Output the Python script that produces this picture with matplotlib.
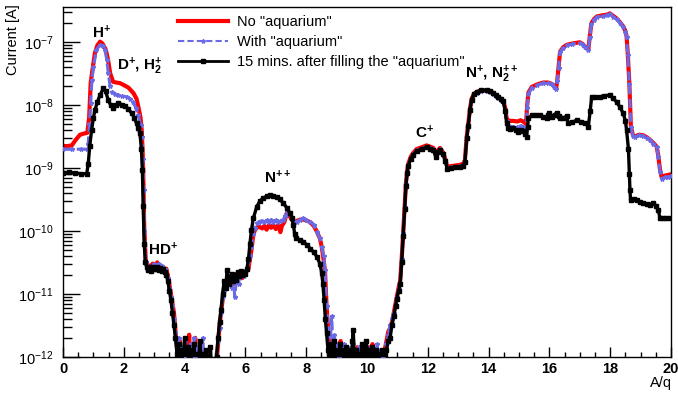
import matplotlib

matplotlib.use("Agg")
import matplotlib.pyplot as plt
import numpy as np
from matplotlib.lines import Line2D
from matplotlib.ticker import LogLocator, MultipleLocator, NullFormatter

plt.rcParams["font.family"] = ["Liberation Sans", "DejaVu Sans"]
plt.rcParams["mathtext.fontset"] = "custom"
plt.rcParams["mathtext.rm"] = "Liberation Sans:bold"
plt.rcParams["mathtext.it"] = "Liberation Sans:italic"
plt.rcParams["mathtext.bf"] = "Liberation Sans:bold"

# values: A/q and log10(current / A)
red_x = [0.0, 0.15, 0.29, 0.42, 0.56, 0.7, 0.8, 0.86, 0.91, 0.98, 1.05, 1.13, 1.22, 1.3, 1.41, 1.49,
         1.55, 1.65, 1.75, 1.875, 2.0, 2.15, 2.32, 2.42, 2.48, 2.55, 2.59, 2.62, 2.64, 2.67, 2.72,
         2.76, 2.8, 2.85, 2.9, 2.95, 3.0, 3.05, 3.1, 3.15, 3.2, 3.25, 3.3, 3.35, 3.4, 3.45, 3.5,
         3.55, 3.6, 3.65, 3.7, 3.75, 3.8, 3.85, 3.9, 3.95, 4.0, 4.05, 4.1, 4.15, 4.2, 4.25, 4.3,
         4.35, 4.4, 4.45, 4.5, 4.55, 4.6, 4.65, 4.7, 4.75, 4.8, 4.85, 4.9, 4.95, 5.0, 5.05, 5.1,
         5.15, 5.2, 5.25, 5.3, 5.35, 5.4, 5.45, 5.5, 5.55, 5.6, 5.65, 5.7, 5.75, 5.8, 5.85, 5.9,
         5.95, 6.0, 6.05, 6.1, 6.15, 6.2, 6.25, 6.3, 6.37, 6.45, 6.55, 6.62, 6.7, 6.78, 6.85,
         6.92, 7.0, 7.08, 7.15, 7.2, 7.28, 7.36, 7.44, 7.52, 7.6, 7.69, 7.8, 7.9, 8.0, 8.13,
         8.25, 8.35, 8.45, 8.51, 8.57, 8.62, 8.67, 8.73, 8.78, 8.83, 8.88, 8.93, 8.98, 9.03,
         9.08, 9.13, 9.18, 9.23, 9.28, 9.33, 9.38, 9.43, 9.48, 9.53, 9.58, 9.63, 9.68, 9.73,
         9.78, 9.83, 9.88, 9.93, 9.98, 10.03, 10.08, 10.13, 10.18, 10.23, 10.28, 10.33, 10.38,
         10.43, 10.48, 10.53, 10.58, 10.64, 10.7, 10.76, 10.82, 10.88, 10.94, 10.98, 11.04,
         11.09, 11.14, 11.19, 11.24, 11.28, 11.32, 11.36, 11.44, 11.52, 11.63, 11.8, 11.96,
         12.08, 12.18, 12.27, 12.33, 12.4, 12.5, 12.57, 12.64, 12.75, 12.89, 13.05, 13.17,
         13.22, 13.28, 13.33, 13.39, 13.44, 13.52, 13.61, 13.75, 13.94, 14.05, 14.16, 14.25,
         14.32, 14.42, 14.48, 14.55, 14.59, 14.65, 14.8, 14.95, 15.05, 15.14, 15.23, 15.27,
         15.31, 15.42, 15.6, 15.8, 15.95, 16.07, 16.16, 16.22, 16.26, 16.3, 16.35, 16.45,
         16.57, 16.75, 17.0, 17.1, 17.17, 17.28, 17.33, 17.38, 17.47, 17.56, 17.75, 17.9,
         17.99, 18.1, 18.21, 18.32, 18.43, 18.5, 18.54, 18.58, 18.63, 18.68, 18.75, 18.82,
         18.95, 19.09, 19.2, 19.31, 19.42, 19.53, 19.58, 19.64, 19.69, 19.8, 19.9, 20.0]
red_logI = [-8.65, -8.65, -8.64, -8.55, -8.47, -8.45, -8.44, -8.2, -7.65, -7.4, -7.17, -7.05, -6.99,
            -7.02, -7.12, -7.3, -7.49, -7.63, -7.64, -7.65, -7.68, -7.72, -7.81, -7.9, -8.03, -8.2,
            -8.4, -8.75, -9.08, -9.9, -10.45, -10.56, -10.6, -10.55, -10.58, -10.52, -10.6, -10.55,
            -10.5, -10.58, -10.55, -10.62, -10.57, -10.65, -10.6, -10.72, -10.85, -11.0, -11.15,
            -11.3, -11.6, -11.85, -12.1, -11.75, -12.2, -11.9, -12.3, -11.8, -12.1, -11.65, -12.3,
            -11.9, -12.0, -11.7, -12.2, -11.85, -12.1, -11.95, -12.3, -11.9, -12.2, -11.95, -12.3,
            -12.1, -12.4, -12.2, -12.3, -12.1, -11.8, -11.5, -11.3, -11.1, -10.9, -10.8, -10.85,
            -10.72, -10.8, -10.7, -10.85, -10.75, -10.68, -10.8, -10.72, -10.65, -10.75, -10.68,
            -10.7, -10.62, -10.6, -10.45, -10.3, -10.1, -10.0, -9.95, -9.93, -9.96, -9.92, -9.98,
            -9.9, -9.95, -9.91, -9.97, -9.9, -10.02, -9.92, -9.86, -9.72, -9.75, -9.82, -9.86,
            -9.84, -9.82, -9.82, -9.83, -9.86, -9.92, -10.01, -10.12, -10.25, -10.45, -10.65,
            -11.2, -11.6, -11.9, -12.3, -11.7, -12.4, -11.8, -11.95, -12.2, -11.75, -12.1, -11.85,
            -12.3, -11.9, -12.15, -11.95, -12.3, -11.9, -12.1, -12.2, -11.85, -12.1, -11.9, -12.3,
            -11.8, -12.1, -11.9, -12.2, -11.85, -12.05, -11.8, -12.1, -11.9, -12.3, -11.95, -12.1,
            -11.9, -12.2, -11.9, -11.75, -11.6, -11.55, -11.45, -11.3, -11.15, -11.05, -10.9,
            -10.8, -10.45, -10.04, -9.6, -9.24, -9.05, -8.93, -8.82, -8.76, -8.7, -8.67, -8.64,
            -8.66, -8.68, -8.8, -8.72, -8.68, -8.75, -8.85, -8.98, -8.97, -8.96, -8.95, -8.93,
            -8.88, -8.5, -8.3, -8.05, -7.9, -7.82, -7.79, -7.77, -7.77, -7.78, -7.81, -7.85,
            -7.88, -7.9, -7.93, -8.05, -8.2, -8.25, -8.25, -8.26, -8.24, -8.26, -8.3, -8.0, -7.8,
            -7.71, -7.67, -7.64, -7.64, -7.66, -7.7, -7.74, -7.6, -7.4, -7.15, -7.08, -7.04,
            -7.02, -7.0, -7.03, -7.07, -7.12, -6.9, -6.7, -6.63, -6.59, -6.57, -6.56, -6.54,
            -6.58, -6.62, -6.68, -6.75, -6.82, -6.91, -7.2, -7.65, -8.34, -8.48, -8.5, -8.47,
            -8.48, -8.51, -8.55, -8.6, -8.66, -8.8, -9.03, -9.14, -9.12, -9.11, -9.1]

blue_x = [0.0, 0.3, 0.6, 0.78, 0.83, 0.87, 0.91, 0.95, 1.0, 1.1, 1.22, 1.3, 1.38, 1.44, 1.49, 1.55,
          1.6, 1.7, 1.82, 1.95, 2.1, 2.2, 2.31, 2.4, 2.48, 2.55, 2.59, 2.62, 2.65, 2.68, 2.72,
          2.76, 2.8, 2.85, 2.9, 2.95, 3.0, 3.05, 3.1, 3.15, 3.2, 3.25, 3.3, 3.35, 3.4, 3.45, 3.5,
          3.55, 3.6, 3.65, 3.7, 3.75, 3.8, 3.85, 3.9, 3.95, 4.0, 4.05, 4.1, 4.15, 4.2, 4.25, 4.3,
          4.35, 4.4, 4.45, 4.5, 4.55, 4.6, 4.65, 4.7, 4.75, 4.8, 4.85, 4.9, 4.95, 5.0, 5.05, 5.1,
          5.15, 5.2, 5.25, 5.3, 5.35, 5.4, 5.45, 5.5, 5.55, 5.6, 5.65, 5.7, 5.75, 5.8, 5.85, 5.9,
          5.95, 6.0, 6.05, 6.1, 6.15, 6.2, 6.25, 6.3, 6.37, 6.45, 6.55, 6.62, 6.7, 6.78, 6.85,
          6.92, 7.0, 7.08, 7.15, 7.25, 7.3, 7.36, 7.44, 7.52, 7.6, 7.69, 7.8, 7.9, 8.0, 8.13,
          8.25, 8.35, 8.45, 8.51, 8.57, 8.62, 8.67, 8.73, 8.78, 8.84, 8.88, 8.93, 8.98, 9.03,
          9.08, 9.13, 9.18, 9.23, 9.28, 9.33, 9.38, 9.43, 9.48, 9.53, 9.58, 9.63, 9.68, 9.73,
          9.78, 9.83, 9.88, 9.93, 9.98, 10.03, 10.08, 10.13, 10.18, 10.23, 10.28, 10.33, 10.38,
          10.43, 10.48, 10.53, 10.58, 10.64, 10.7, 10.76, 10.82, 10.88, 10.94, 10.98, 11.04,
          11.09, 11.14, 11.19, 11.24, 11.28, 11.32, 11.36, 11.44, 11.52, 11.63, 11.8, 11.96,
          12.08, 12.18, 12.27, 12.33, 12.4, 12.5, 12.57, 12.64, 12.75, 12.89, 13.05, 13.17,
          13.22, 13.28, 13.33, 13.39, 13.44, 13.52, 13.61, 13.75, 13.94, 14.05, 14.16, 14.25,
          14.32, 14.42, 14.48, 14.55, 14.59, 14.65, 14.8, 14.95, 15.05, 15.14, 15.23, 15.27,
          15.31, 15.42, 15.6, 15.8, 15.95, 16.07, 16.16, 16.22, 16.26, 16.3, 16.35, 16.45,
          16.57, 16.75, 17.0, 17.1, 17.17, 17.28, 17.33, 17.38, 17.47, 17.56, 17.75, 17.9,
          17.99, 18.1, 18.21, 18.32, 18.43, 18.5, 18.54, 18.58, 18.63, 18.68, 18.75, 18.82,
          18.95, 19.09, 19.2, 19.31, 19.42, 19.53, 19.58, 19.64, 19.69, 19.8, 19.9, 20.0]
blue_logI = [-8.7, -8.7, -8.7, -8.7, -8.61, -8.3, -7.97, -7.6, -7.39, -7.12, -7.04, -7.06, -7.12,
             -7.28, -7.49, -7.7, -7.79, -7.83, -7.84, -7.85, -7.87, -7.9, -7.95, -8.05, -8.16,
             -8.32, -8.5, -8.85, -9.35, -10.0, -10.5, -10.6, -10.55, -10.62, -10.57, -10.6,
             -10.53, -10.6, -10.56, -10.52, -10.6, -10.56, -10.64, -10.6, -10.68, -10.75, -10.9,
             -11.05, -11.2, -11.4, -11.6, -11.9, -11.7, -12.1, -11.85, -12.2, -11.75, -12.0, -11.9,
             -12.2, -11.8, -12.1, -11.7, -12.0, -11.85, -12.3, -11.8, -12.1, -11.7, -12.2, -11.9,
             -12.3, -11.95, -12.2, -12.05, -12.3, -12.15, -12.0, -11.75, -11.55, -11.3, -11.05,
             -10.95, -10.85, -10.78, -10.82, -10.7, -10.9, -10.75, -11.05, -10.8, -10.72, -10.85,
             -10.7, -10.66, -10.72, -10.65, -10.6, -10.5, -10.4, -10.25, -10.05, -9.95, -9.88,
             -9.85, -9.84, -9.86, -9.83, -9.85, -9.82, -9.86, -9.83, -9.85, -9.84, -9.82, -9.76,
             -9.69, -9.72, -9.8, -9.84, -9.85, -9.82, -9.8, -9.82, -9.85, -9.9, -10.01, -10.12,
             -10.25, -10.4, -10.62, -11.2, -11.55, -11.85, -11.36, -11.9, -11.65, -12.2, -11.8,
             -12.0, -11.9, -12.3, -11.8, -12.1, -11.85, -12.2, -11.9, -12.05, -11.8, -12.2, -11.95,
             -12.1, -11.85, -12.2, -11.9, -12.05, -11.95, -12.3, -11.9, -12.1, -11.85, -12.2,
             -11.95, -12.1, -11.8, -12.2, -11.9, -12.3, -12.0, -11.95, -11.8, -11.65, -11.5, -11.4,
             -11.3, -11.2, -11.05, -10.92, -10.83, -10.45, -10.04, -9.62, -9.26, -9.07, -8.95,
             -8.84, -8.78, -8.72, -8.69, -8.66, -8.68, -8.7, -8.82, -8.74, -8.7, -8.77, -8.87,
             -9.0, -8.99, -8.98, -8.97, -8.95, -8.9, -8.52, -8.32, -8.07, -7.92, -7.83, -7.8,
             -7.78, -7.78, -7.79, -7.82, -7.86, -7.89, -7.91, -7.94, -8.07, -8.25, -8.33, -8.34,
             -8.35, -8.33, -8.34, -8.36, -8.05, -7.82, -7.72, -7.68, -7.65, -7.65, -7.67, -7.71,
             -7.75, -7.61, -7.41, -7.16, -7.09, -7.05, -7.03, -7.01, -7.04, -7.08, -7.13, -6.91,
             -6.71, -6.64, -6.6, -6.58, -6.57, -6.55, -6.59, -6.63, -6.69, -6.76, -6.83, -6.92,
             -7.21, -7.66, -8.35, -8.49, -8.51, -8.48, -8.49, -8.52, -8.56, -8.61, -8.67, -8.82,
             -9.06, -9.17, -9.15, -9.14, -9.13]

black_x = [0.0, 0.2, 0.4, 0.6, 0.78, 0.83, 0.88, 0.94, 1.0, 1.05, 1.13, 1.22, 1.33, 1.4, 1.49,
           1.57, 1.65, 1.75, 1.82, 1.93, 2.04, 2.15, 2.26, 2.35, 2.42, 2.48, 2.53, 2.58, 2.61,
           2.64, 2.67, 2.71, 2.76, 2.8, 2.85, 2.9, 2.95, 3.0, 3.05, 3.1, 3.15, 3.2, 3.25, 3.3,
           3.35, 3.4, 3.45, 3.5, 3.55, 3.6, 3.65, 3.7, 3.75, 3.8, 3.85, 3.9, 3.95, 4.0, 4.05,
           4.1, 4.15, 4.2, 4.25, 4.3, 4.35, 4.4, 4.45, 4.5, 4.55, 4.6, 4.65, 4.7, 4.75, 4.8,
           4.85, 4.9, 4.95, 5.0, 5.05, 5.1, 5.15, 5.2, 5.25, 5.3, 5.35, 5.4, 5.45, 5.5, 5.55,
           5.6, 5.65, 5.7, 5.75, 5.8, 5.85, 5.9, 5.95, 6.0, 6.05, 6.1, 6.15, 6.2, 6.26, 6.37,
           6.48, 6.59, 6.7, 6.81, 6.92, 7.03, 7.14, 7.25, 7.36, 7.47, 7.53, 7.58, 7.62, 7.66,
           7.78, 7.9, 8.02, 8.13, 8.25, 8.35, 8.45, 8.51, 8.55, 8.59, 8.63, 8.67, 8.72, 8.77,
           8.82, 8.87, 8.92, 8.97, 9.02, 9.07, 9.12, 9.17, 9.22, 9.27, 9.32, 9.37, 9.42, 9.47,
           9.52, 9.55, 9.58, 9.63, 9.68, 9.73, 9.78, 9.83, 9.88, 9.93, 9.98, 10.03, 10.08,
           10.13, 10.18, 10.23, 10.28, 10.33, 10.38, 10.43, 10.48, 10.53, 10.58, 10.64, 10.7,
           10.76, 10.82, 10.88, 10.94, 10.98, 11.04, 11.09, 11.14, 11.19, 11.24, 11.28, 11.32,
           11.36, 11.44, 11.52, 11.63, 11.8, 11.96, 12.08, 12.18, 12.27, 12.33, 12.4, 12.5,
           12.57, 12.64, 12.75, 12.89, 13.05, 13.17, 13.22, 13.28, 13.33, 13.39, 13.44, 13.52,
           13.61, 13.75, 13.94, 14.05, 14.16, 14.25, 14.32, 14.42, 14.48, 14.55, 14.59, 14.64,
           14.72, 14.81, 14.9, 14.98, 15.06, 15.14, 15.2, 15.25, 15.28, 15.31, 15.42, 15.55,
           15.69, 15.8, 15.91, 15.96, 16.0, 16.04, 16.1, 16.18, 16.24, 16.3, 16.35, 16.45,
           16.57, 16.62, 16.75, 16.9, 17.05, 17.17, 17.28, 17.34, 17.39, 17.5, 17.66, 17.8,
           17.99, 18.1, 18.21, 18.32, 18.43, 18.5, 18.54, 18.6, 18.63, 18.65, 18.67, 18.77,
           18.87, 18.98, 19.09, 19.2, 19.31, 19.42, 19.5, 19.58, 19.64, 19.75, 19.85, 19.97]
black_logI = [-9.08, -9.07, -9.08, -9.09, -9.09, -8.93, -8.65, -8.4, -8.2, -8.08, -7.95, -7.84,
              -7.73, -7.78, -7.92, -8.0, -8.04, -8.0, -7.97, -7.99, -8.01, -8.06, -8.13, -8.2,
              -8.29, -8.37, -8.45, -8.7, -9.03, -9.6, -10.2, -10.5, -10.58, -10.62, -10.58,
              -10.63, -10.58, -10.61, -10.6, -10.58, -10.62, -10.59, -10.64, -10.6, -10.66,
              -10.7, -10.8, -10.95, -11.1, -11.3, -11.5, -11.7, -11.95, -11.8, -12.2, -11.9,
              -12.1, -11.7, -12.2, -11.85, -12.0, -11.9, -12.3, -11.8, -12.1, -11.95, -12.2,
              -11.75, -12.1, -11.95, -12.3, -11.9, -12.05, -12.2, -11.85, -12.3, -12.1, -12.2,
              -12.0, -11.7, -11.45, -11.25, -11.0, -10.8, -10.9, -10.62, -10.85, -10.75, -10.68,
              -10.8, -10.7, -10.78, -10.66, -10.72, -10.64, -10.7, -10.65, -10.68, -10.6, -10.45,
              -10.2, -9.98, -9.8, -9.62, -9.52, -9.48, -9.45, -9.43, -9.44, -9.46, -9.5, -9.56,
              -9.63, -9.72, -9.8, -9.9, -10.05, -10.12, -10.14, -10.17, -10.22, -10.28, -10.34,
              -10.41, -10.52, -10.67, -10.85, -11.1, -11.4, -11.63, -11.9, -12.2, -11.8, -12.1,
              -11.75, -12.2, -11.9, -12.05, -11.8, -12.2, -11.9, -12.1, -11.85, -12.3, -11.9,
              -12.1, -11.75, -11.58, -12.1, -11.9, -12.2, -11.95, -12.1, -11.8, -12.2, -11.9,
              -11.75, -12.1, -11.9, -12.25, -11.85, -12.05, -11.9, -12.2, -11.95, -12.1, -11.9,
              -12.2, -11.95, -11.9, -11.75, -11.7, -11.5, -11.35, -11.2, -11.08, -10.95, -10.85,
              -10.5, -10.08, -9.65, -9.28, -9.08, -8.96, -8.85, -8.79, -8.73, -8.7, -8.67, -8.69,
              -8.71, -8.83, -8.75, -8.71, -8.78, -8.88, -9.01, -9.0, -8.99, -8.98, -8.96, -8.91,
              -8.53, -8.33, -8.07, -7.92, -7.82, -7.79, -7.76, -7.76, -7.78, -7.8, -7.84, -7.87,
              -7.9, -7.93, -8.1, -8.28, -8.36, -8.38, -8.37, -8.4, -8.42, -8.4, -8.41, -8.46,
              -8.5, -8.35, -8.21, -8.16, -8.15, -8.16, -8.19, -8.21, -8.16, -8.13, -8.17, -8.19,
              -8.15, -8.12, -8.18, -8.2, -8.2, -8.18, -8.29, -8.27, -8.24, -8.27, -8.28, -8.34,
              -8.1, -7.87, -7.87, -7.87, -7.85, -7.84, -7.89, -7.95, -8.03, -8.13, -8.25, -8.4,
              -8.7, -9.1, -9.35, -9.51, -9.5, -9.51, -9.54, -9.56, -9.57, -9.58, -9.55, -9.6,
              -9.67, -9.8, -9.8, -9.79, -9.8]

labels = ['No "aquarium"', 'With "aquarium"', '15 mins. after filling the "aquarium"']

fig = plt.figure(figsize=(6.78, 3.94), dpi=100)
ax = fig.add_axes([63 / 678, 1 - 356.7 / 394, 608 / 678, 349.4 / 394])

ax.plot(red_x, 10.0 ** np.array(red_logI), color="#ff0000", lw=3.0, zorder=2)
ax.plot(blue_x, 10.0 ** np.array(blue_logI), color="#6a6ae6", lw=2.2, ls=(0, (3, 1.5)),
        marker="*", ms=3.2, zorder=3)
ax.plot(black_x, 10.0 ** np.array(black_logI), color="black", lw=2.4, marker="s", ms=2.4,
        zorder=4)

ax.set_yscale("log")
ax.set_xlim(0, 20)
ax.set_ylim(1e-12, 3.6e-7)
ax.xaxis.set_major_locator(MultipleLocator(2))
ax.xaxis.set_minor_locator(MultipleLocator(0.5))
ax.yaxis.set_major_locator(LogLocator(base=10, numticks=20))
ax.yaxis.set_minor_locator(LogLocator(base=10, subs=np.arange(2, 10), numticks=20))
ax.yaxis.set_minor_formatter(NullFormatter())
ax.tick_params(axis="both", which="both", direction="in", labelsize=10.5, width=1)
ax.tick_params(axis="x", which="major", length=7.2, pad=3.5)
ax.tick_params(axis="x", which="minor", length=3.6)
ax.tick_params(axis="y", which="major", length=12, pad=7)
ax.tick_params(axis="y", which="minor", length=6.5)
for lbl in ax.get_xticklabels():
    lbl.set_fontweight("bold")
for s in ax.spines.values():
    s.set_linewidth(1)

bold = dict(fontsize=11, fontweight="bold", va="center")
ax.text(1.28, 10 ** -6.84, r"H$^{+}$", ha="center", **bold)
ax.text(1.78, 10 ** -7.39, r"D$^{+}$, H$_{2}^{+}$", ha="left", **bold)
ax.text(2.8, 10 ** -10.3, r"HD$^{+}$", ha="left", **bold)
ax.text(6.61, 10 ** -9.16, r"N$^{++}$", ha="left", **bold)
ax.text(11.58, 10 ** -8.43, r"C$^{+}$", ha="left", **bold)
ax.text(13.22, 10 ** -7.51, r"N$^{+}$, N$_{2}^{++}$", ha="left", **bold)

fig.text(13 / 678, 1 - 4 / 394, "Current [A]", rotation=90, ha="center", va="top", fontsize=10.5)
fig.text(672 / 678, 1 - 383 / 394, "A/q", ha="right", va="center", fontsize=10.5)

handles = [
    Line2D([], [], color="#ff0000", lw=3.0),
    Line2D([], [], color="#6a6ae6", lw=1.5, ls=(0, (3, 1.5)), marker="*", ms=3),
    Line2D([], [], color="black", lw=2.0, marker="s", ms=2.2),
]
fig.legend(handles, labels, loc="upper left", bbox_to_anchor=(178 / 678, 1 - 15 / 394),
           frameon=False, fontsize=10.5, handlelength=3.45, handletextpad=0.6,
           labelspacing=0.42, borderpad=0, borderaxespad=0)

fig.savefig("out.png", dpi=100)
